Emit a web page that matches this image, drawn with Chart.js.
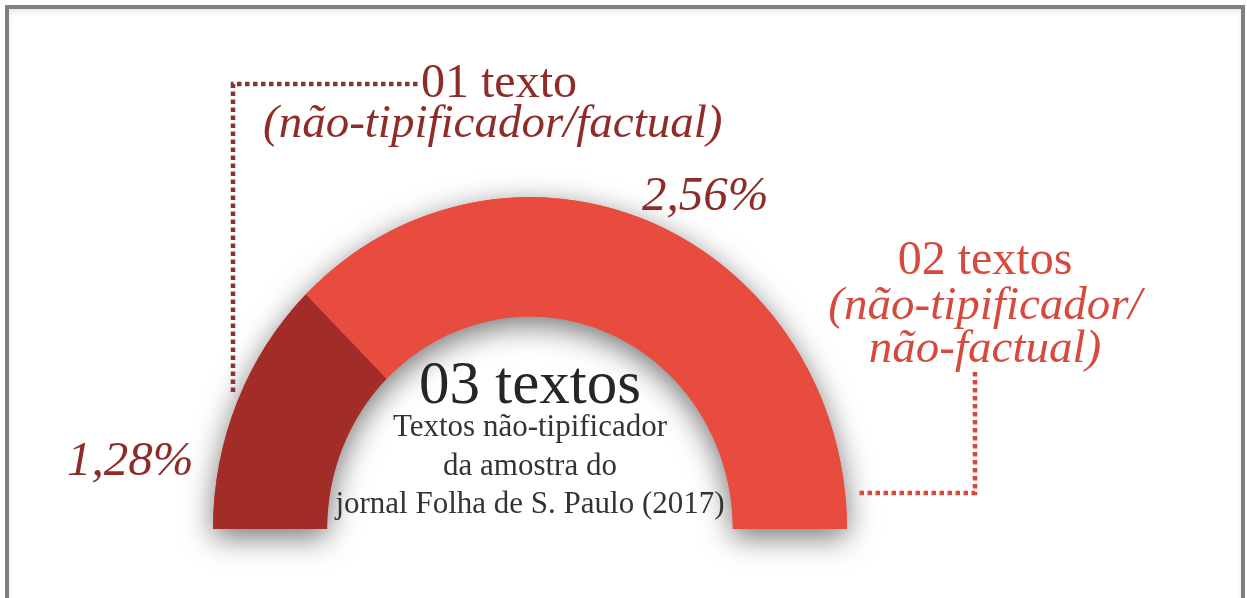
<!DOCTYPE html>
<html lang="pt">
<head>
  <meta charset="UTF-8">
  <title>Textos não-tipificador - Folha de S. Paulo (2017)</title>
  <script src="https://cdn.jsdelivr.net/npm/chart.js"></script>
  <style>
    body { margin: 0; background: #fff; overflow: hidden; }
    .wrap { position: relative; width: 1247px; height: 598px; }
    .frame { position: absolute; left: 5px; top: 5px; width: 1240px; height: 660px; box-sizing: border-box;
             border: 4px solid #808080; box-shadow: inset 0 4px 5px rgba(0,0,0,0.08); }
    canvas { position: absolute; left: 0; top: 0; }
  </style>
</head>
<body>
  <div class="wrap">
    <div class="frame"></div>
    <canvas id="ringChart"></canvas>
  </div>

  <script>
    const segmentLabels = ['01 texto', '02 textos'];
    const segmentNotes = [['(não-tipificador/factual)'], ['(não-tipificador/', 'não-factual)']];
    const segmentShares = [25, 75];          // share of the half ring as drawn in the picture
    const percentLabels = ['1,28%', '2,56%'];
    const centerTitle = '03 textos';
    const centerLines = ['Textos não-tipificador', 'da amostra do', 'jornal Folha de S. Paulo (2017)'];

    const segmentColors = ['#a22c27', '#e84c3e'];
    const darkText = '#8e2c2a';
    const lightText = '#d54a3c';
    const STRETCH_Y = 1.047;   // the ring in the original is slightly taller than wide
    const SERIF = '"Liberation Serif", "DejaVu Serif", serif';

    // shadow under the whole ring + vertical stretch of the arcs
    const ringPlugin = {
      id: 'ring',
      beforeDatasetsDraw(chart) {
        const arc = chart.getDatasetMeta(0).data[0];
        const { x, y, innerRadius, outerRadius } = arc;
        const ctx = chart.ctx;
        ctx.save();
        ctx.translate(0, y);
        ctx.scale(1, STRETCH_Y);
        ctx.translate(0, -y);

        ctx.save();
        ctx.shadowColor = 'rgba(0,0,0,0.55)';
        ctx.shadowBlur = 30;
        ctx.shadowOffsetY = 8;
        ctx.fillStyle = segmentColors[1];
        ctx.beginPath();
        ctx.arc(x, y, outerRadius, Math.PI, 2 * Math.PI);
        ctx.arc(x, y, innerRadius, 2 * Math.PI, Math.PI, true);
        ctx.closePath();
        ctx.fill();
        ctx.restore();
      },
      afterDatasetsDraw(chart) {
        chart.ctx.restore();
      }
    };

    function dotted(ctx, pts, color) {
      ctx.save();
      ctx.strokeStyle = color;
      ctx.lineWidth = 4.5;
      ctx.setLineDash([4.5, 3.5]);
      ctx.beginPath();
      ctx.moveTo(pts[0][0], pts[0][1]);
      for (let i = 1; i < pts.length; i++) ctx.lineTo(pts[i][0], pts[i][1]);
      ctx.stroke();
      ctx.restore();
    }

    const labelPlugin = {
      id: 'labels',
      afterDraw(chart) {
        const ctx = chart.ctx;
        const cx = chart.getDatasetMeta(0).data[0].x;
        ctx.save();
        ctx.textBaseline = 'alphabetic';

        // leader lines
        dotted(ctx, [[233, 392], [233, 84], [418, 84]], '#8a3234');
        dotted(ctx, [[975, 372], [975, 493], [857, 493]], lightText);

        // left segment label
        ctx.fillStyle = darkText;
        ctx.textAlign = 'left';
        ctx.font = '48px ' + SERIF;
        ctx.fillText(segmentLabels[0], 421, 97);
        ctx.font = 'italic 47px ' + SERIF;
        ctx.fillText(segmentNotes[0][0], 263, 137);

        // right segment label
        ctx.fillStyle = lightText;
        ctx.textAlign = 'center';
        ctx.font = '48px ' + SERIF;
        ctx.fillText(segmentLabels[1], 985, 274);
        ctx.font = 'italic 47px ' + SERIF;
        ctx.fillText(segmentNotes[1][0], 985, 319);
        ctx.fillText(segmentNotes[1][1], 985, 362);

        // percentages
        ctx.fillStyle = darkText;
        ctx.font = 'italic 49px ' + SERIF;
        ctx.textAlign = 'left';
        ctx.fillText(percentLabels[0], 67, 475);
        ctx.fillText(percentLabels[1], 642, 210);

        // centre text
        ctx.textAlign = 'center';
        ctx.fillStyle = '#262626';
        ctx.font = '61px ' + SERIF;
        ctx.fillText(centerTitle, cx, 403);
        ctx.fillStyle = '#333';
        ctx.font = '31px ' + SERIF;
        const bases = [436, 475, 513];
        centerLines.forEach((t, i) => ctx.fillText(t, cx, bases[i]));
        ctx.restore();
      }
    };

    new Chart(document.getElementById('ringChart'), {
      type: 'doughnut',
      data: {
        labels: segmentLabels,
        datasets: [{
          data: segmentShares,
          backgroundColor: segmentColors,
          borderWidth: 0,
          clip: false
        }]
      },
      options: {
        responsive: true,
        maintainAspectRatio: false,
        animation: false,
        events: [],
        rotation: -90,
        circumference: 180,
        cutout: '64%',
        layout: { padding: { left: 213, right: 400, top: 212, bottom: 69 } },
        plugins: { legend: { display: false }, tooltip: { enabled: false } }
      },
      plugins: [ringPlugin, labelPlugin]
    });
  </script>
</body>
</html>
